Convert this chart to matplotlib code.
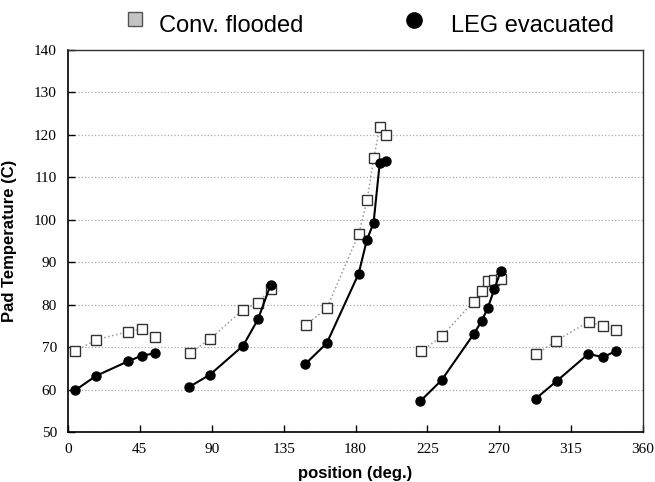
import numpy as np
import matplotlib
matplotlib.use("Agg")
import matplotlib.pyplot as plt
from matplotlib.lines import Line2D

# Data: five clusters, each with flooded (squares) and evacuated (circles)
flood_x = [
    [4.4, 17.5, 37.3, 46.4, 54.2],
    [76.3, 88.9, 109.6, 118.9, 126.9],
    [148.8, 162.0, 182.0, 187.3, 191.5, 195.2, 199.4],
    [221.3, 233.9, 253.9, 259.2, 262.9, 266.9, 271.3],
    [293.1, 305.8, 326.0, 335.0, 343.1],
]
flood_y = [
    [69.0, 71.7, 73.6, 74.3, 72.4],
    [68.5, 71.9, 78.8, 80.4, 83.7],
    [75.2, 79.1, 96.6, 104.6, 114.6, 121.8, 120.0],
    [69.0, 72.5, 80.7, 83.2, 85.5, 85.8, 86.0],
    [68.3, 71.5, 76.0, 74.9, 74.1],
]
evac_x = [
    [4.4, 17.5, 37.3, 46.4, 54.2],
    [75.8, 88.9, 109.6, 118.9, 126.9],
    [148.3, 162.0, 182.0, 187.1, 191.3, 195.2, 199.4],
    [220.4, 233.9, 253.9, 259.0, 262.9, 266.9, 271.0],
    [292.7, 306.0, 325.8, 335.0, 343.1],
]
evac_y = [
    [59.8, 63.2, 66.6, 68.0, 68.5],
    [60.6, 63.5, 70.3, 76.5, 84.7],
    [65.9, 70.9, 87.3, 95.2, 99.2, 113.4, 113.9],
    [57.2, 62.2, 73.0, 76.1, 79.3, 83.6, 88.0],
    [57.8, 62.0, 68.4, 67.6, 69.1],
]
x_ticks = [0, 45, 90, 135, 180, 225, 270, 315, 360]
y_ticks = [50, 60, 70, 80, 90, 100, 110, 120, 130, 140]

fig = plt.figure(figsize=(6.55, 4.82), dpi=100)
ax = fig.add_axes([68 / 655, 0.1037, (643 - 68) / 655, 0.7933])

for xs, ys in zip(flood_x, flood_y):
    ax.plot(xs, ys, color='#9a9a9a', linestyle=':', linewidth=1.1,
            marker='s', markersize=6.5, markerfacecolor='white',
            markeredgecolor='#333333', markeredgewidth=1.0, zorder=3)
for xs, ys in zip(evac_x, evac_y):
    ax.plot(xs, ys, color='black', linestyle='-', linewidth=1.5,
            marker='o', markersize=6.5, markerfacecolor='black',
            markeredgecolor='black', zorder=4)

ax.set_xlim(0, 360)
ax.set_ylim(50, 140)
ax.set_xticks(x_ticks)
ax.set_yticks(y_ticks)
ax.yaxis.grid(True, color='#aaaaaa', linestyle=':', linewidth=0.9)
ax.set_axisbelow(True)
ax.tick_params(direction='in', length=5, width=1, colors='black',
               labelsize=11, pad=8)
for lab in ax.get_xticklabels() + ax.get_yticklabels():
    lab.set_family('Liberation Serif')
for s in ['left', 'bottom']:
    ax.spines[s].set_linewidth(1.2)
for s in ['top', 'right']:
    ax.spines[s].set_linewidth(1.0)
    ax.spines[s].set_color('#333333')

ax.set_xlabel('position (deg.)', fontsize=12, fontweight='bold',
              family='Liberation Sans', labelpad=7)
ax.set_ylabel('Pad Temperature (C)', fontsize=12, fontweight='bold',
              family='Liberation Sans')
ax.yaxis.set_label_coords(-(68 - 17.5) / 575, 0.5)

# Legend at top
fig.add_artist(Line2D([134.5 / 655], [1 - 18.5 / 482], transform=fig.transFigure,
                      marker='s', markersize=9.5, markerfacecolor='#c4c4c4',
                      markeredgecolor='#555555', linestyle='none'))
fig.text(159 / 655, 1 - 31.5 / 482, 'Conv. flooded', fontsize=17,
         family='Liberation Sans', va='baseline', ha='left')
fig.add_artist(Line2D([414 / 655], [1 - 20 / 482], transform=fig.transFigure,
                      marker='o', markersize=11, markerfacecolor='black',
                      markeredgecolor='black', linestyle='none'))
fig.text(451 / 655, 1 - 32 / 482, 'LEG evacuated', fontsize=17,
         family='Liberation Sans', va='baseline', ha='left')

fig.savefig('out.png', dpi=100)
